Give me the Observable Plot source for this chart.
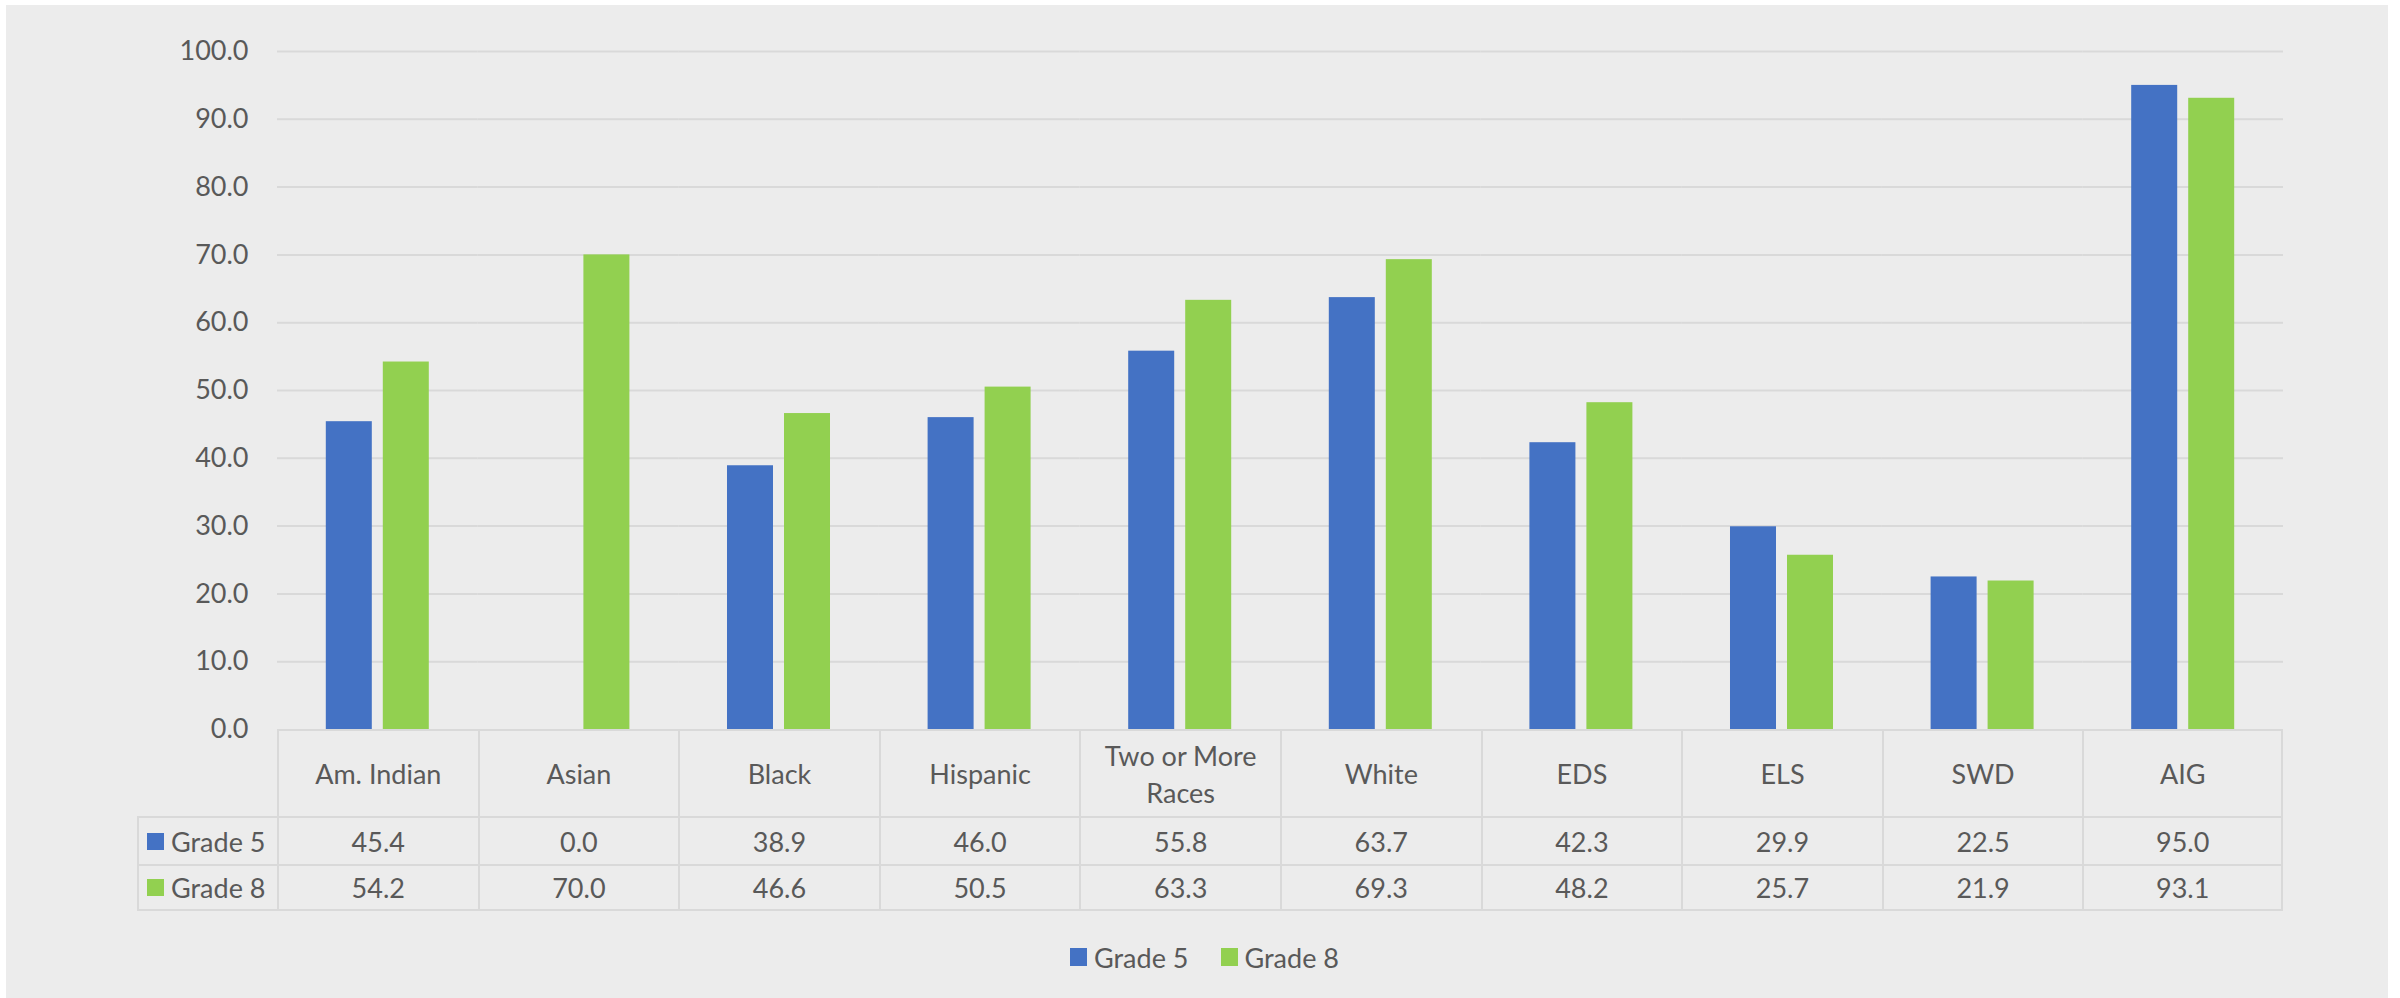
<!DOCTYPE html>
<html>
<head>
<meta charset="utf-8">
<script src="https://cdn.jsdelivr.net/npm/d3@7"></script>
<script src="https://cdn.jsdelivr.net/npm/@observablehq/plot@0.6"></script>
<style>
  html, body { margin: 0; padding: 0; background: #ffffff; }
  body { width: 2400px; height: 998px; position: relative; overflow: hidden; font-family: Lato, "Open Sans", sans-serif; }
  #panel { position: absolute; left: 6px; top: 5px; width: 2382px; height: 993px; background: #ececec; }
  #chart { position: absolute; left: 0; top: 0; }
  .cell { position: absolute; box-sizing: border-box; display: flex; align-items: center; justify-content: center;
          text-align: center; color: #595959; font-size: 27px; line-height: 37px;
          border-left: 2px solid #d9d9d9; border-top: 2px solid #d9d9d9; }
  .cell.rowlab { justify-content: flex-start; padding-left: 8px; }
  .sw { display: inline-block; width: 17px; height: 17px; margin-right: 7px; }
  #legend { position: absolute; left: 0; top: 938px; width: 2400px; height: 38px; display: flex; justify-content: center;
            align-items: center; color: #595959; font-size: 27px; padding-left: 9px; box-sizing: border-box; }
  #legend .item { display: flex; align-items: center; margin: 0 16px; }
  #legend .sw { width: 17px; height: 18px; margin-right: 7px; }
</style>
</head>
<body>
<div id="panel"></div>
<div id="chart"></div>
<div id="table"></div>
<div id="legend"></div>
<script>
const categories = ["Am. Indian", "Asian", "Black", "Hispanic", "Two or More Races", "White", "EDS", "ELS", "SWD", "AIG"];
const series = ["Grade 5", "Grade 8"];
const grade5 = [45.4, 0.0, 38.9, 46.0, 55.8, 63.7, 42.3, 29.9, 22.5, 95.0];
const grade8 = [54.2, 70.0, 46.6, 50.5, 63.3, 69.3, 48.2, 25.7, 21.9, 93.1];
const yTicks = [0, 10, 20, 30, 40, 50, 60, 70, 80, 90, 100];
const colors = ["#4472C4", "#92D050"];
const headerLines = {"Two or More Races": ["Two or More", "Races"]};

const data = categories.flatMap((c, i) => [
  {category: c, series: series[0], value: grade5[i]},
  {category: c, series: series[1], value: grade8[i]}
]);

const chart = Plot.plot({
  width: 2400,
  height: 760,
  marginTop: 51,
  marginBottom: 31,
  marginLeft: 277,
  marginRight: 117,
  style: {background: "transparent", fontFamily: "Lato, 'Open Sans', sans-serif", fontSize: "27px", color: "#595959"},
  fx: {domain: categories, padding: 0, axis: null, round: false},
  x: {domain: series, paddingInner: 0.193, paddingOuter: 0.856, axis: null, round: false},
  y: {domain: [0, 100], ticks: yTicks, tickFormat: d => d.toFixed(1), tickSize: 0, tickPadding: 29, label: null},
  color: {domain: series, range: colors},
  marks: [
    Plot.ruleY(yTicks.filter(d => d > 0), {stroke: "#d9d9d9", strokeWidth: 2}),
    Plot.barY(data, {fx: "category", x: "series", y: "value", fill: "series"})
  ]
});
document.getElementById("chart").appendChild(chart);

// data table under the chart, aligned on the fx scale
const fx = chart.scale("fx");
const ys = chart.scale("y");
const bw = fx.bandwidth;
const tableTop = ys.apply(0);
const headerH = 87, row1H = 48, row2H = 47;
const rowLabelLeft = 137;
const table = document.getElementById("table");
function cell(left, top, w, h, html, cls) {
  const d = document.createElement("div");
  d.className = "cell" + (cls ? " " + cls : "");
  d.style.left = left + "px"; d.style.top = top + "px";
  d.style.width = w + "px"; d.style.height = h + "px";
  d.innerHTML = html;
  table.appendChild(d);
  return d;
}
const firstX = fx.apply(categories[0]);
const rowsTop = [tableTop + headerH, tableTop + headerH + row1H];
const rowsH = [row1H, row2H];
const values = [grade5, grade8];
// row labels
series.forEach((s, r) => {
  const d = cell(rowLabelLeft, rowsTop[r], firstX - rowLabelLeft, rowsH[r],
    `<span class="sw" style="background:${colors[r]}"></span>${s}`, "rowlab");
  if (r === 1) d.style.borderBottom = "2px solid #d9d9d9";
});
categories.forEach((c, i) => {
  const x = fx.apply(c);
  const last = i === categories.length - 1;
  const label = (headerLines[c] || [c]).join("<br>");
  const h = cell(x, tableTop, bw, headerH, `<div>${label}</div>`);
  if (last) h.style.borderRight = "2px solid #d9d9d9";
  values.forEach((vals, r) => {
    const d = cell(x, rowsTop[r], bw, rowsH[r], vals[i].toFixed(1));
    if (last) d.style.borderRight = "2px solid #d9d9d9";
    if (r === 1) d.style.borderBottom = "2px solid #d9d9d9";
  });
});

// legend
const legend = document.getElementById("legend");
series.forEach((s, i) => {
  const it = document.createElement("div");
  it.className = "item";
  it.innerHTML = `<span class="sw" style="background:${colors[i]}"></span>${s}`;
  legend.appendChild(it);
});
</script>
</body>
</html>
